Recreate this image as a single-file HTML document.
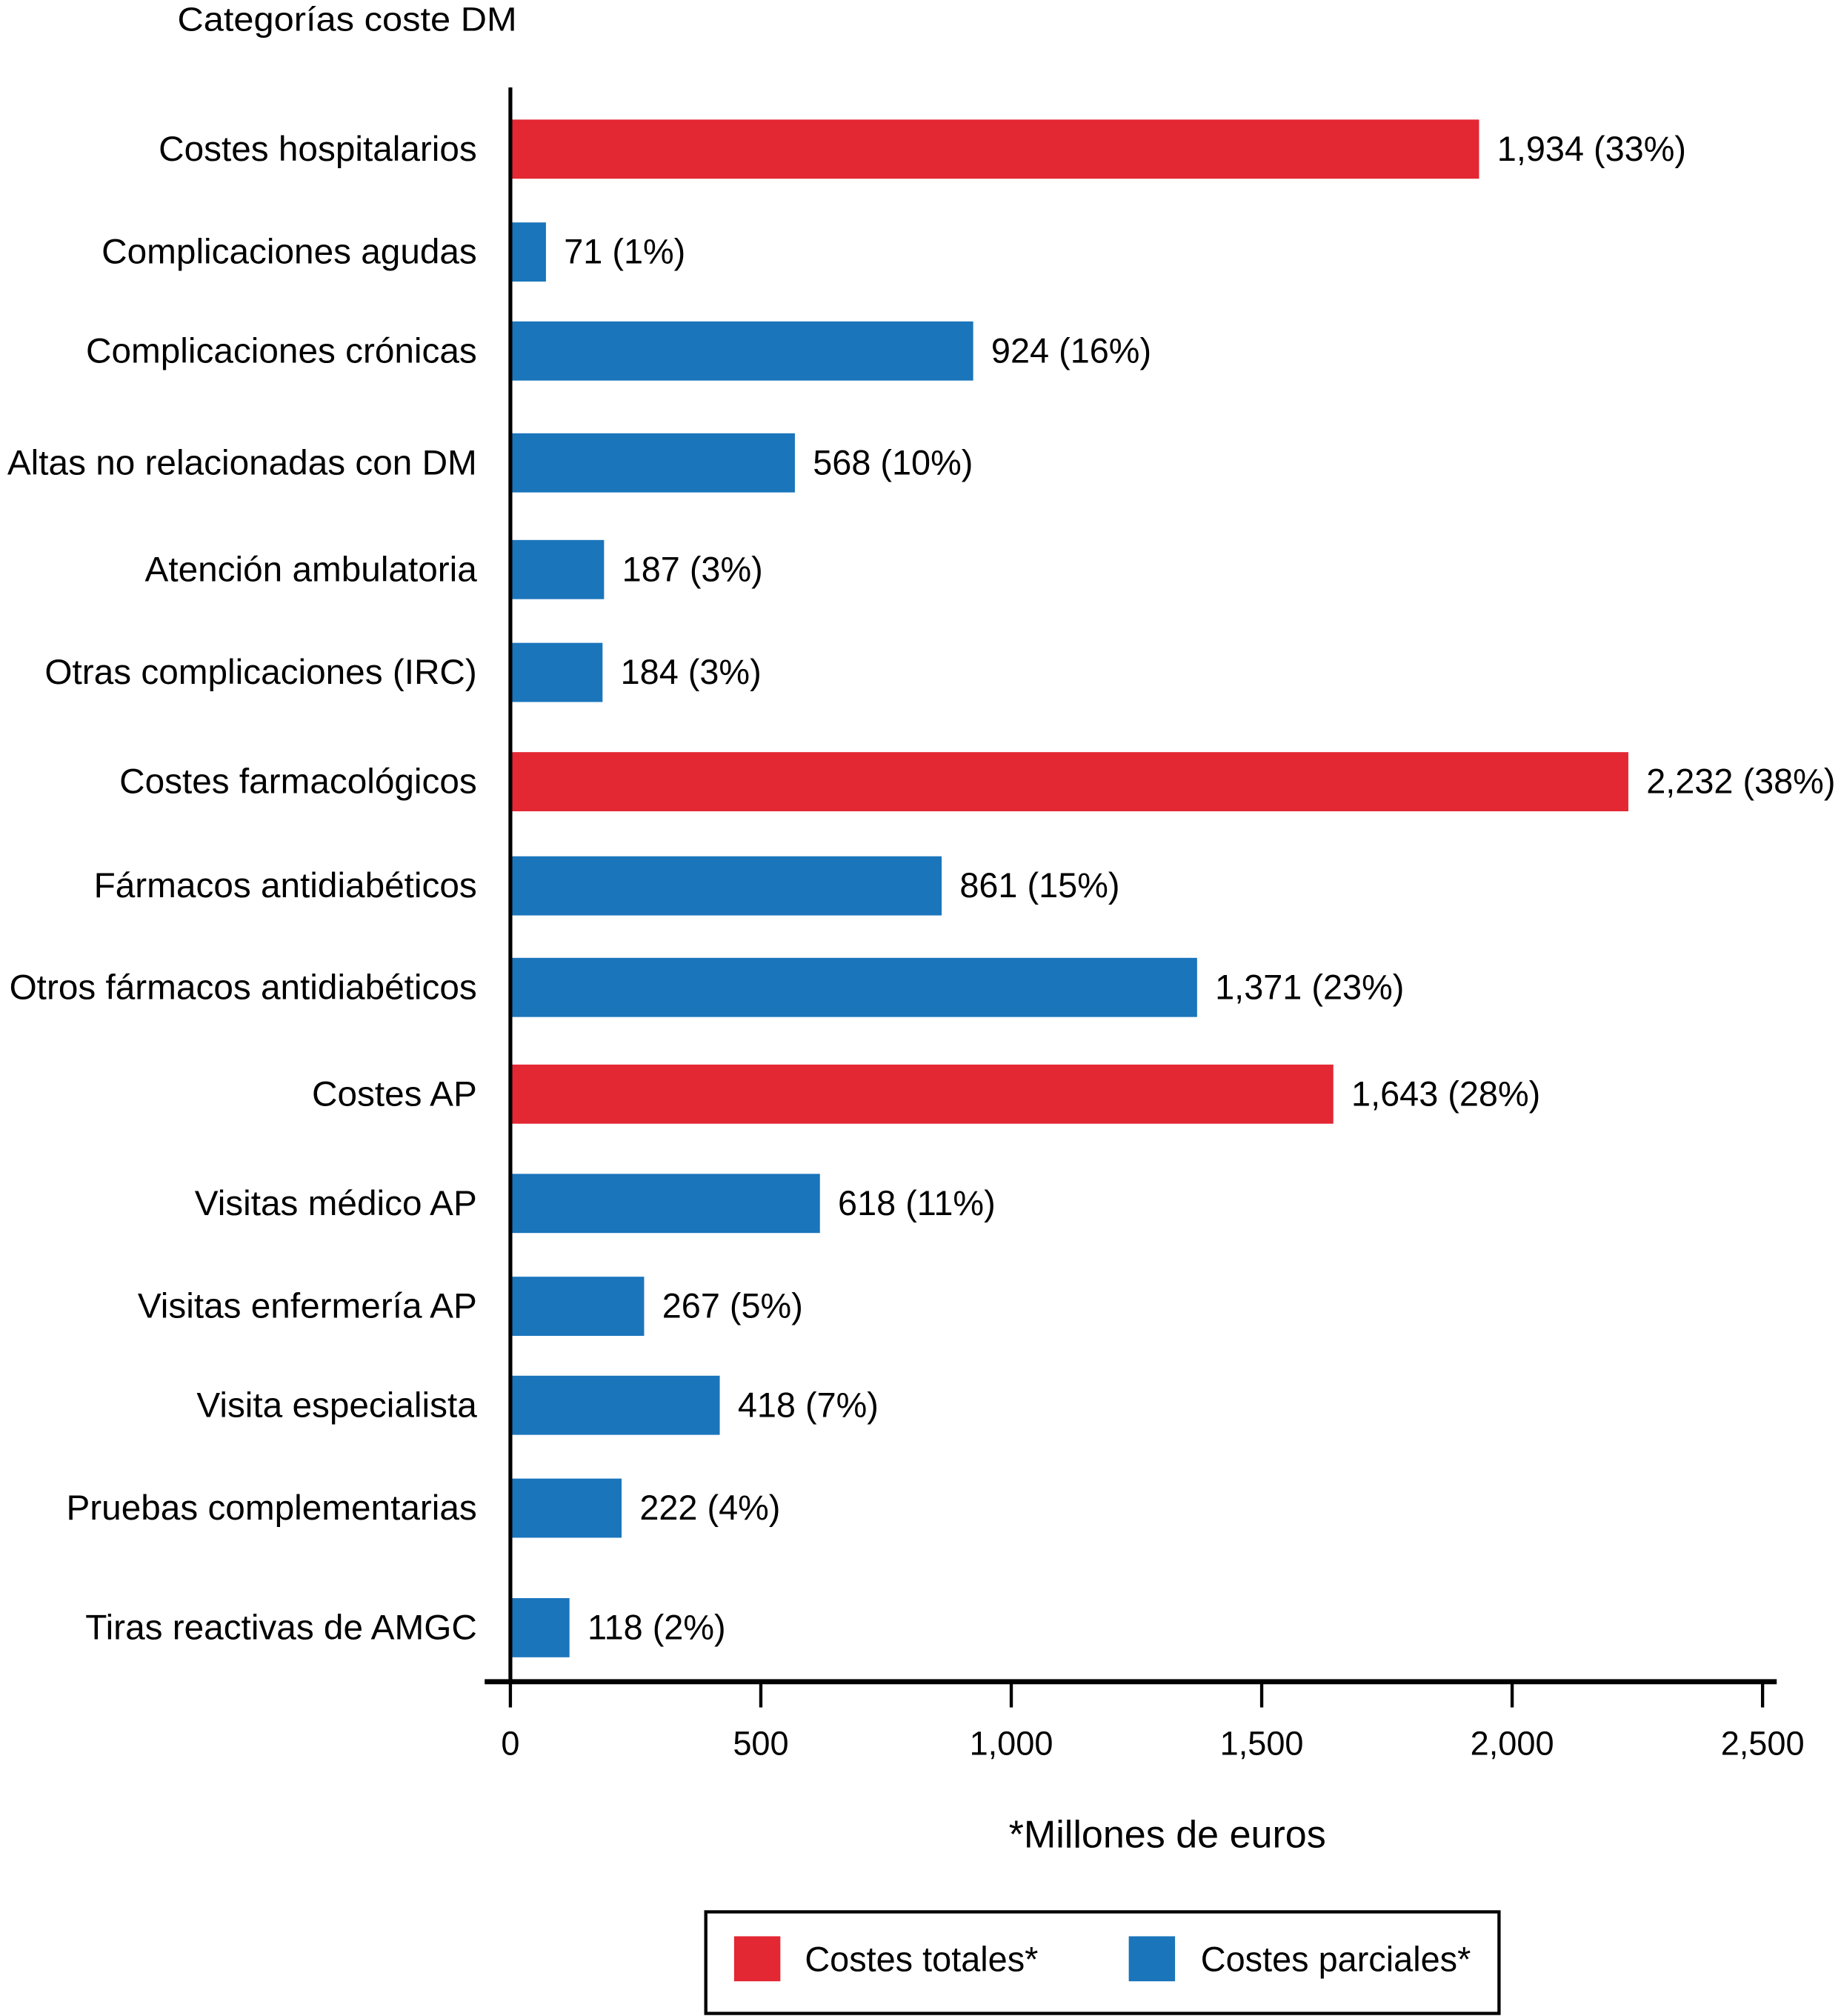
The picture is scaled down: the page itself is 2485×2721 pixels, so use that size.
<!DOCTYPE html>
<html><head><meta charset="utf-8"><style>
html,body{margin:0;padding:0;background:#fff;}
svg{display:block;font-family:"Liberation Sans",sans-serif;}
</style></head><body>
<svg id="chart" width="2485" height="2721" viewBox="0 0 1432 1568" preserveAspectRatio="none" xmlns="http://www.w3.org/2000/svg">
<text x="138" y="24" font-size="26" textLength="264" lengthAdjust="spacingAndGlyphs">Categorías coste DM</text>
<g id="bars"></g>
<g id="axes"></g>
<text x="908" y="1437" font-size="30" text-anchor="middle">*Millones de euros</text>
<g>
<rect x="549" y="1487" width="617" height="79" fill="#fff" stroke="#000" stroke-width="2.5"/>
<rect x="571" y="1506" width="36" height="35" fill="#e32733"/>
<text x="626" y="1533" font-size="27">Costes totales*</text>
<rect x="878" y="1506" width="36" height="35" fill="#1a75bb"/>
<text x="934" y="1533" font-size="27">Costes parciales*</text>
</g>
</svg>
<script>
const categories = ["Costes hospitalarios","Complicaciones agudas","Complicaciones crónicas","Altas no relacionadas con DM","Atención ambulatoria","Otras complicaciones (IRC)","Costes farmacológicos","Fármacos antidiabéticos","Otros fármacos antidiabéticos","Costes AP","Visitas médico AP","Visitas enfermería AP","Visita especialista","Pruebas complementarias","Tiras reactivas de AMGC"];
const values = [1934,71,924,568,187,184,2232,861,1371,1643,618,267,418,222,118];
const valueLabels = ["1,934 (33%)","71 (1%)","924 (16%)","568 (10%)","187 (3%)","184 (3%)","2,232 (38%)","861 (15%)","1,371 (23%)","1,643 (28%)","618 (11%)","267 (5%)","418 (7%)","222 (4%)","118 (2%)"];
const isTotal = [true,false,false,false,false,false,true,false,false,true,false,false,false,false,false];
const xTicks = [0,500,1000,1500,2000,2500];
const xTickLabels = ["0","500","1,000","1,500","2,000","2,500"];
const rowCenters = [116,196,273,360,443,523,608,689,768,851,936,1016,1093,1173,1266];

const NS="http://www.w3.org/2000/svg";
const x0=397, xScale=(1371-397)/2500;
function xPos(v){return x0+v*xScale;}
function mk(tag,attrs,parent,txt){const e=document.createElementNS(NS,tag);for(const k in attrs)e.setAttribute(k,attrs[k]);if(txt!==undefined)e.textContent=txt;parent.appendChild(e);return e;}
const gb=document.getElementById('bars'), ga=document.getElementById('axes');
categories.forEach((c,i)=>{
  const y=rowCenters[i];
  const r=mk('rect',{x:x0,y:y-23,width:xPos(values[i])-x0,height:46,fill:isTotal[i]?'#e32733':'#1a75bb'},gb);
  
  
  const t=mk('text',{x:371,y:y+9,'font-size':27.5,'text-anchor':'end'},gb,c);
  
  
  const v=mk('text',{x:xPos(values[i])+14,y:y+9,'font-size':27},gb,valueLabels[i]);
  
  
});
const ya=mk('line',{x1:x0,y1:68,x2:x0,y2:1310,stroke:'#000','stroke-width':3},ga);


const xa=mk('line',{x1:377,y1:1308,x2:1382,y2:1308,stroke:'#000','stroke-width':4},ga);


xTicks.forEach((v,i)=>{
  const tk=mk('line',{x1:xPos(v),y1:1308,x2:xPos(v),y2:1328,stroke:'#000','stroke-width':2.5},ga);
  
  
  const tl=mk('text',{x:xPos(v),y:1365,'font-size':26,'text-anchor':'middle'},ga,xTickLabels[i]);
  
  
});
</script>
</body></html>
